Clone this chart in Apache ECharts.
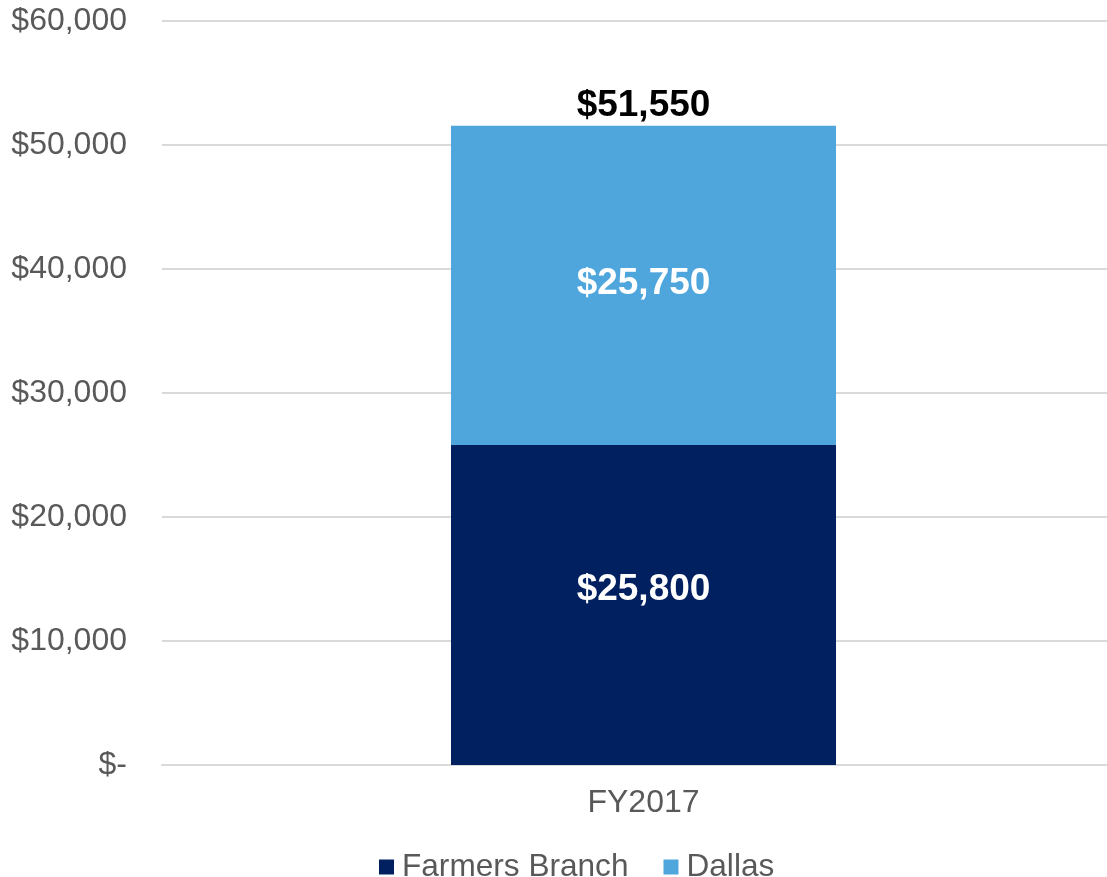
<!DOCTYPE html>
<html>
<head>
<meta charset="utf-8">
<script src="https://cdn.jsdelivr.net/npm/echarts@6/dist/echarts.min.js"></script>
<style>html,body{margin:0;padding:0;background:#fff;overflow:hidden;width:1107px;height:877px;}#c{width:1125px;height:877px;}</style>
</head>
<body>
<div id="c"></div>
<script>
const categories = ['FY2017'];
const farmersBranch = [25800];
const dallas = [25750];
const seriesNames = ['Farmers Branch', 'Dallas'];
const yTicks = { min: 0, max: 60000, interval: 10000 };

const totals = categories.map((c, i) => farmersBranch[i] + dallas[i]);
const fmt = v => v === 0 ? '$-' : '$' + v.toLocaleString('en-US');
const font = '"Liberation Sans", Arial, sans-serif';

const chart = echarts.init(document.getElementById('c'), null, { renderer: 'canvas' });
chart.setOption({
  animation: false,
  grid: { left: 162, right: 0, top: 21, bottom: 112, containLabel: false },
  legend: {
    data: seriesNames,
    top: 846,
    left: 374,
    itemWidth: 15,
    itemHeight: 15,
    itemGap: 35,
    icon: 'rect',
    textStyle: { fontFamily: font, fontSize: 31.6, color: '#595959', padding: [0, 0, 0, 3] }
  },
  xAxis: {
    type: 'category',
    data: categories,
    axisLine: { lineStyle: { color: '#d9d9d9', width: 2 } },
    axisTick: { show: false },
    axisLabel: { fontFamily: font, fontSize: 32, color: '#595959', margin: 22 }
  },
  yAxis: {
    type: 'value',
    min: yTicks.min, max: yTicks.max, interval: yTicks.interval,
    axisLine: { show: false },
    axisTick: { show: false },
    splitLine: { lineStyle: { color: '#d9d9d9', width: 2 } },
    axisLabel: { fontFamily: font, fontSize: 32, color: '#595959', margin: 35, formatter: fmt }
  },
  series: [
    {
      name: seriesNames[0], type: 'bar', stack: 's', data: farmersBranch, barWidth: 385,
      itemStyle: { color: '#002060' },
      label: { show: true, position: 'inside', offset: [0, -15], color: '#fff', fontWeight: 'bold', fontFamily: font, fontSize: 37, formatter: p => fmt(p.value) }
    },
    {
      name: seriesNames[1], type: 'bar', stack: 's', data: dallas, barWidth: 385,
      itemStyle: { color: '#4EA6DC' },
      label: { show: true, position: 'inside', offset: [0, -2], color: '#fff', fontWeight: 'bold', fontFamily: font, fontSize: 37, formatter: p => fmt(p.value) }
    },
    {
      name: 'Total', type: 'bar', stack: 's', data: totals.map(() => 0), barWidth: 385,
      itemStyle: { color: 'transparent' },
      label: { show: true, position: 'top', distance: 1, color: '#000', fontWeight: 'bold', fontFamily: font, fontSize: 37, formatter: p => fmt(totals[p.dataIndex]) }
    }
  ]
});
</script>
</body>
</html>
